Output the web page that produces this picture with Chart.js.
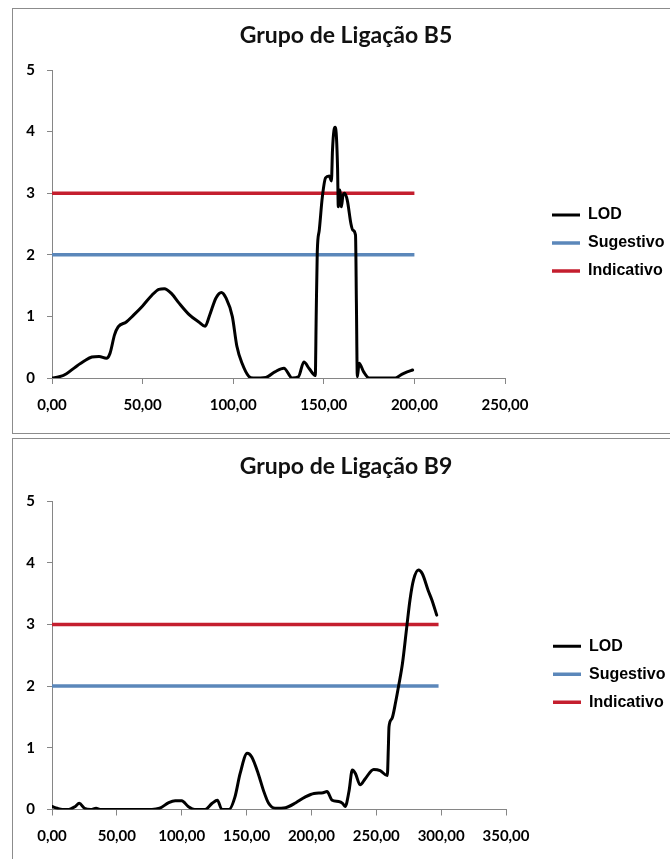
<!DOCTYPE html>
<html><head><meta charset="utf-8">
<script src="https://cdn.jsdelivr.net/npm/chart.js@4.4.1/dist/chart.umd.min.js"></script>
<style>
html,body{margin:0;padding:0;background:#fff;}
body{width:670px;height:859px;position:relative;overflow:hidden;}
.frame{position:absolute;border:1px solid #8c8c8c;box-sizing:border-box;}
canvas{position:absolute;left:0;}
</style></head><body>
<div class="frame" style="left:12px;top:8px;width:700px;height:426px;"></div>
<div class="frame" style="left:12px;top:438px;width:700px;height:460px;"></div>
<canvas id="c1" width="670" height="431" style="top:0"></canvas>
<canvas id="c2" width="670" height="428" style="top:431px"></canvas>
<script>
// ---------- data ----------
const seriesNames = ['LOD', 'Sugestivo', 'Indicativo'];
const yTickLabels = ['0', '1', '2', '3', '4', '5'];

// Grupo de Ligação B5
const titleB5 = 'Grupo de Ligação B5';
const xTicksB5 = ['0,00', '50,00', '100,00', '150,00', '200,00', '250,00'];
const lodB5X = [0, 4, 8, 13, 18, 22, 26, 30, 32, 34.5, 36.5, 41, 45, 50, 55, 59, 62, 66, 70, 76, 81, 84.5, 87, 90.5, 93.5, 96, 99.5, 102, 105, 108.5, 111, 118, 123, 128, 132.5, 136, 139, 142, 145.3, 145.8, 146.4, 147.5, 149.2, 151, 153, 154.2, 154.8, 155.6, 156.3, 157, 157.6, 158, 158.8, 159.7, 160.5, 161.5, 163, 165, 166, 167.5, 168, 168.5, 169.5, 172, 175, 189.5, 193, 196, 199];
const lodB5Y = [0.00, 0.02, 0.07, 0.18, 0.28, 0.34, 0.35, 0.32, 0.40, 0.70, 0.83, 0.91, 1.02, 1.17, 1.34, 1.44, 1.45, 1.37, 1.22, 1.02, 0.91, 0.84, 1.02, 1.30, 1.39, 1.30, 1.00, 0.52, 0.23, 0.03, 0.00, 0.01, 0.10, 0.16, 0.00, 0.02, 0.26, 0.15, 0.04, 1.00, 2.05, 2.40, 2.94, 3.25, 3.28, 3.20, 3.70, 4.02, 4.07, 3.90, 3.40, 2.78, 3.05, 2.78, 2.95, 3.00, 2.88, 2.50, 2.40, 2.32, 1.20, 0.02, 0.24, 0.10, 0.00, 0.00, 0.06, 0.10, 0.13];
const thrB5X = [0, 200];
const sugB5 = [2, 2];
const indB5 = [3, 3];

// Grupo de Ligação B9
const titleB9 = 'Grupo de Ligação B9';
const xTicksB9 = ['0,00', '50,00', '100,00', '150,00', '200,00', '250,00', '300,00', '350,00'];
const lodB9X = [0, 4, 8, 13, 18, 21, 25, 30, 34, 37, 77, 83, 90, 95, 100, 105, 110, 118, 123.5, 127.5, 131, 136.5, 141, 145, 150.5, 154, 159, 163, 167, 172, 180, 188, 195, 202, 209, 212, 216, 221, 224, 226, 229, 231.5, 234, 237.5, 241.5, 248, 253, 258.5, 259.3, 259.8, 262, 265, 267.2, 270.2, 273.5, 276, 278.7, 282.5, 285.5, 290, 292.8, 296.6];
const lodB9Y = [0.05, 0.02, 0.00, 0.00, 0.05, 0.10, 0.02, 0.00, 0.02, 0.00, 0.00, 0.02, 0.11, 0.14, 0.14, 0.05, 0.00, 0.00, 0.10, 0.15, 0.00, 0.00, 0.20, 0.58, 0.91, 0.85, 0.58, 0.31, 0.10, 0.02, 0.03, 0.11, 0.20, 0.26, 0.27, 0.29, 0.15, 0.13, 0.10, 0.05, 0.30, 0.64, 0.58, 0.40, 0.50, 0.65, 0.63, 0.55, 1.00, 1.34, 1.47, 1.75, 2.00, 2.37, 2.96, 3.40, 3.72, 3.88, 3.82, 3.55, 3.40, 3.15];
const thrB9X = [0, 298];
const sugB9 = [2, 2];
const indB9 = [3, 3];

// ---------- helpers ----------
const toPts = (xs, ys) => xs.map((x, i) => ({x: x, y: ys[i]}));

function legendPlugin(width, dx, dy) {
  return {
    id: 'legendPlace',
    beforeLayout(chart) {
      const lg = chart.legend;
      if (lg && !lg._patched) {
        const fit = lg.fit;
        lg.fit = function () { fit.call(this); this.width = width; };
        lg._patched = true;
      }
    },
    afterLayout(chart) {
      const lg = chart.legend;
      lg.left += dx; lg.right += dx;
      lg.top += dy; lg.bottom += dy;
    }
  };
}

function makeChart(id, title, lodX, lodY, thrX, sug, ind, xMax, xTicks, legendW, padBottom) {
  const axisGray = '#868686';
  const tickFont = {family: 'Lato', weight: 'bold', size: 15};
  return new Chart(document.getElementById(id), {
    type: 'line',
    data: {
      datasets: [
        {label: seriesNames[0], data: toPts(lodX, lodY), borderColor: '#000000', backgroundColor: '#000000', borderWidth: 3, pointRadius: 0, cubicInterpolationMode: 'monotone', borderJoinStyle: 'round', borderCapStyle: 'round'},
        {label: seriesNames[1], data: toPts(thrX, sug), borderColor: '#5B87BA', backgroundColor: '#5B87BA', borderWidth: 3.5, pointRadius: 0},
        {label: seriesNames[2], data: toPts(thrX, ind), borderColor: '#C41E2E', backgroundColor: '#C41E2E', borderWidth: 3.5, pointRadius: 0}
      ]
    },
    options: {
      responsive: false,
      animation: false,
      events: [],
      layout: {padding: {left: 22, right: 0, top: 0, bottom: padBottom}},
      scales: {
        x: {
          type: 'linear', min: 0, max: xMax,
          ticks: {stepSize: 50, autoSkip: false, maxRotation: 0, padding: 12, color: '#000', font: tickFont,
                  callback: (v) => xTicks[Math.round(v / 50)]},
          grid: {display: true, drawOnChartArea: false, drawTicks: true, tickLength: 6, color: axisGray},
          border: {display: true, color: axisGray, width: 1},
          afterFit: (s) => { s.height = 40; }
        },
        y: {
          type: 'linear', min: 0, max: 5,
          ticks: {stepSize: 1, padding: 12, color: '#000', font: tickFont,
                  callback: (v) => yTickLabels[Math.round(v)]},
          grid: {display: true, drawOnChartArea: false, drawTicks: true, tickLength: 5, color: axisGray},
          border: {display: true, color: axisGray, width: 1},
          afterFit: (s) => { s.width = 30; }
        }
      },
      plugins: {
        title: {display: true, text: title, color: '#111', font: {family: 'Lato', size: 23, weight: 'bold', lineHeight: 1.2}, padding: {top: 22, bottom: 20.4}},
        legend: {
          display: true, position: 'right', fullSize: false,
          labels: {usePointStyle: true, pointStyle: 'line', pointStyleWidth: 28, padding: 12, color: '#000',
                   font: {family: 'Liberation Sans', weight: 'bold', size: 16}}
        },
        tooltip: {enabled: false}
      }
    },
    plugins: [legendPlugin(legendW, 35, 19)]
  });
}

makeChart('c1', titleB5, lodB5X, lodB5Y, thrB5X, sugB5, indB5, 250, xTicksB5, 165, 13);
makeChart('c2', titleB9, lodB9X, lodB9Y, thrB9X, sugB9, indB9, 350, xTicksB9, 164, 9.5);
</script>
</body></html>
